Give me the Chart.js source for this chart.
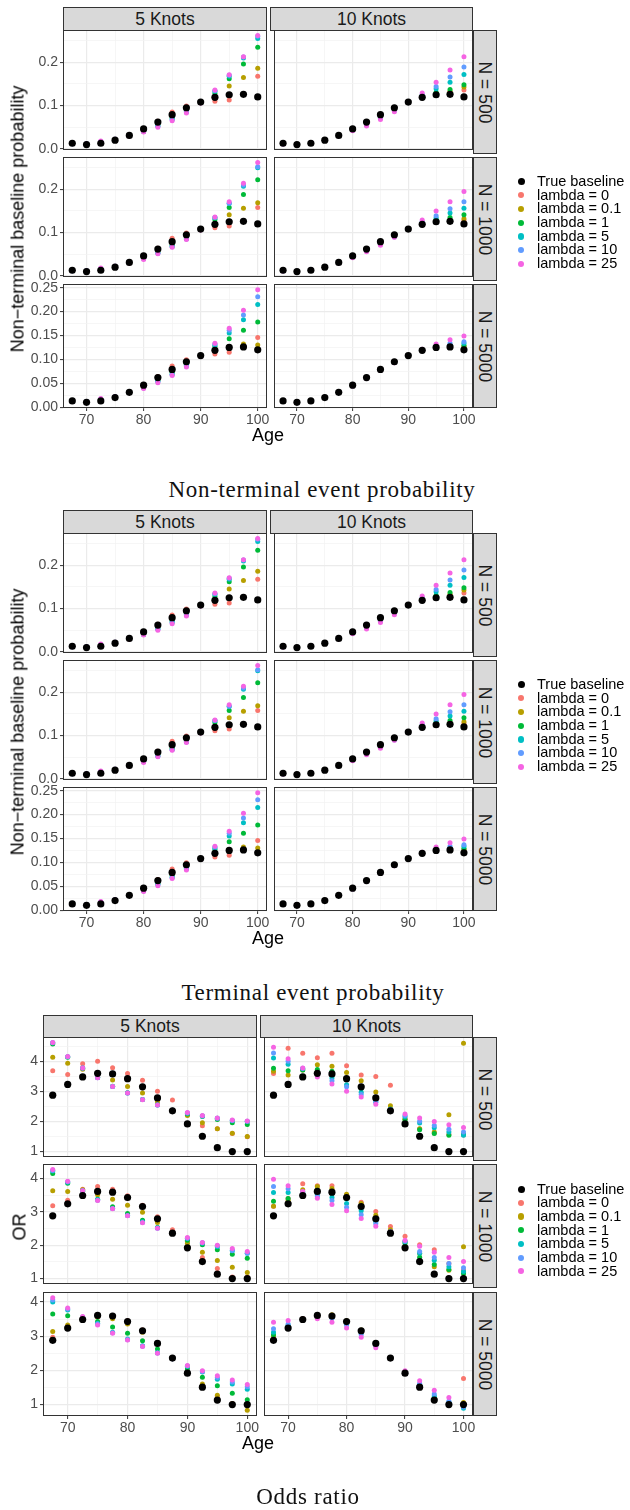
<!DOCTYPE html>
<html>
<head>
<meta charset="utf-8">
<script src="https://cdn.jsdelivr.net/npm/chart.js@4.4.0/dist/chart.umd.min.js"></script>
<style>
body{margin:0;background:#fff;width:630px;height:1510px;position:relative;overflow:hidden;font-family:"Liberation Sans",Arial,sans-serif;}
canvas{position:absolute;}
.strip{position:absolute;background:#d9d9d9;border:1px solid #333;box-sizing:border-box;color:#1a1a1a;font-size:17.5px;display:flex;align-items:center;justify-content:center;white-space:nowrap;}
.strip span{display:block;}
.rot{transform:rotate(90deg);}
.title{position:absolute;color:#000;font-size:18px;white-space:nowrap;transform:translate(-50%,-50%);}
.ytitle{transform:translate(-50%,-50%) rotate(-90deg);}
.caption{position:absolute;font-family:"Liberation Serif","Times New Roman",serif;font-size:23px;letter-spacing:0.7px;color:#111;white-space:nowrap;transform:translate(-50%,-50%);}
.legend{position:absolute;font-size:14.5px;color:#000;}
.legend div{position:relative;height:13.7px;line-height:13.7px;padding-left:22px;white-space:nowrap;}
.legend i{position:absolute;left:3px;top:3.6px;width:6.2px;height:6.2px;border-radius:50%;}
</style>
</head>
<body>
<script>
var ages = [67.5,70,72.5,75,77.5,80,82.5,85,87.5,90,92.5,95,97.5,100];
var xTickLabels = ["70","80","90","100"];
var knotLabels = ["5 Knots","10 Knots"];
var sizeLabels = ["N = 500","N = 1000","N = 5000"];
var seriesLabels = ["lambda = 0","lambda = 0.1","lambda = 1","lambda = 5","lambda = 10","lambda = 25"];
var seriesColors = ["#F8766D","#B79F00","#00BA38","#00BFC4","#619CFF","#F564E3"];

// baseline probability (same picture for non-terminal and terminal figure)
var probBaseline = [.013,.010,.013,.020,.031,.046,.062,.079,.095,.108,.119,.125,.126,.120];
// rows: lambda = 0, 0.1, 1, 5, 10, 25
var probN500K5 = [
  [.013,.010,.013,.020,.030,.044,.064,.085,.099,.107,.110,.113,.127,.168],
  [.013,.010,.014,.020,.031,.043,.060,.078,.094,.108,.120,.145,.165,.186],
  [.013,.011,.015,.021,.031,.041,.056,.072,.088,.107,.128,.162,.196,.235],
  [.012,.012,.016,.021,.031,.040,.053,.069,.086,.107,.133,.168,.210,.255],
  [.012,.012,.017,.022,.031,.040,.052,.067,.085,.107,.134,.170,.212,.260],
  [.012,.012,.018,.022,.030,.039,.050,.065,.083,.106,.136,.171,.213,.262]];
var probN500K10 = [
  [.013,.010,.013,.020,.031,.045,.061,.078,.094,.108,.120,.125,.130,.136],
  [.013,.010,.013,.020,.031,.045,.061,.077,.093,.108,.120,.128,.133,.143],
  [.013,.010,.013,.020,.031,.044,.060,.076,.092,.108,.121,.131,.137,.148],
  [.012,.010,.014,.020,.031,.044,.058,.073,.090,.108,.123,.139,.154,.172],
  [.012,.010,.014,.020,.031,.043,.056,.071,.088,.108,.125,.144,.166,.189],
  [.011,.010,.015,.020,.030,.042,.053,.068,.086,.107,.129,.154,.182,.213]];
var probN1000K5 = [
  [.013,.010,.013,.020,.030,.044,.064,.087,.099,.107,.111,.115,.127,.158],
  [.013,.010,.014,.020,.031,.043,.060,.078,.094,.108,.121,.141,.156,.169],
  [.013,.011,.015,.021,.031,.041,.056,.071,.088,.107,.130,.158,.188,.222],
  [.012,.012,.016,.021,.031,.040,.053,.068,.086,.107,.134,.167,.207,.250],
  [.012,.012,.017,.022,.031,.040,.052,.067,.085,.107,.135,.168,.210,.252],
  [.012,.012,.018,.022,.030,.038,.051,.066,.084,.106,.136,.171,.214,.262]];
var probN1000K10 = [
  [.013,.010,.013,.020,.031,.045,.061,.078,.094,.108,.120,.126,.128,.128],
  [.013,.010,.013,.020,.031,.045,.061,.077,.093,.108,.120,.127,.130,.132],
  [.013,.010,.013,.020,.031,.044,.060,.076,.092,.108,.121,.130,.135,.141],
  [.012,.010,.014,.020,.031,.044,.059,.074,.091,.108,.123,.134,.145,.156],
  [.012,.010,.014,.020,.031,.043,.058,.073,.090,.108,.125,.139,.155,.171],
  [.011,.010,.015,.020,.030,.042,.056,.071,.089,.107,.129,.150,.171,.195]];
var probN5000K5 = [
  [.013,.010,.013,.020,.030,.044,.064,.086,.099,.107,.111,.115,.125,.146],
  [.013,.010,.014,.020,.031,.044,.061,.079,.095,.108,.120,.127,.132,.130],
  [.013,.011,.015,.021,.031,.042,.057,.073,.089,.107,.127,.143,.161,.178],
  [.012,.012,.016,.021,.031,.041,.054,.069,.087,.107,.130,.155,.183,.215],
  [.012,.012,.017,.022,.031,.040,.053,.068,.086,.107,.132,.161,.193,.231],
  [.012,.012,.018,.022,.030,.039,.051,.066,.084,.106,.134,.165,.203,.246]];
var probN5000K10 = [
  [.013,.010,.013,.020,.031,.046,.062,.079,.095,.108,.119,.126,.128,.126],
  [.013,.010,.013,.020,.031,.046,.062,.079,.095,.108,.119,.126,.128,.127],
  [.013,.010,.013,.020,.031,.046,.062,.079,.095,.108,.119,.126,.129,.129],
  [.013,.010,.013,.020,.031,.045,.061,.078,.094,.108,.120,.127,.130,.134],
  [.013,.010,.013,.020,.031,.045,.061,.078,.094,.108,.120,.128,.134,.137],
  [.012,.011,.014,.020,.031,.044,.060,.077,.093,.108,.121,.132,.141,.149]];
var probTickLabels = [["0.0","0.1","0.2"],["0.0","0.1","0.2"],["0.00","0.05","0.10","0.15","0.20","0.25"]];

// odds ratio
var orBaseline = [2.88,3.24,3.49,3.61,3.59,3.43,3.16,2.79,2.36,1.92,1.51,1.13,1.00,1.00];
var orN500K5 = [
  [3.70,3.57,3.93,4.01,3.80,3.60,3.38,3.01,2.72,2.22,1.86,1.76,1.60,1.49],
  [4.15,3.95,3.75,3.62,3.39,3.17,2.95,2.66,2.38,2.20,1.96,1.76,1.61,1.50],
  [4.59,4.15,3.78,3.47,3.18,2.96,2.74,2.56,2.38,2.25,2.17,2.07,1.96,1.90],
  [4.63,4.16,3.79,3.47,3.17,2.95,2.74,2.55,2.38,2.28,2.19,2.11,2.03,2.00],
  [4.63,4.16,3.79,3.46,3.17,2.95,2.74,2.55,2.38,2.29,2.19,2.11,2.04,2.01],
  [4.64,4.17,3.79,3.46,3.17,2.95,2.73,2.55,2.38,2.30,2.20,2.12,2.05,2.02]];
var orN500K10 = [
  [3.60,4.45,4.28,4.13,4.28,3.86,3.55,3.50,3.21,2.10,1.75,1.62,1.58,1.55],
  [3.68,3.55,3.72,3.90,3.85,3.64,3.36,2.99,2.53,2.08,1.76,1.65,2.23,4.61],
  [3.78,3.70,3.72,3.74,3.68,3.40,3.10,2.75,2.42,2.05,1.73,1.60,1.54,1.58],
  [4.12,3.91,3.76,3.62,3.45,3.23,2.98,2.65,2.40,2.16,1.95,1.79,1.65,1.54],
  [4.29,4.01,3.78,3.55,3.36,3.16,2.90,2.65,2.40,2.20,2.01,1.87,1.74,1.65],
  [4.48,4.10,3.79,3.49,3.25,3.01,2.82,2.58,2.38,2.25,2.12,2.00,1.89,1.80]];
var orN1000K5 = [
  [3.18,3.35,3.68,3.76,3.68,3.48,3.20,2.85,2.46,2.12,1.63,1.30,1.05,1.05],
  [3.63,3.61,3.66,3.51,3.38,3.20,2.99,2.68,2.38,2.06,1.79,1.54,1.34,1.18],
  [4.15,3.86,3.62,3.38,3.15,2.95,2.75,2.53,2.36,2.15,2.01,1.86,1.73,1.61],
  [4.22,3.89,3.63,3.37,3.10,2.89,2.70,2.52,2.36,2.20,2.06,1.95,1.83,1.76],
  [4.24,3.90,3.63,3.35,3.10,2.89,2.68,2.51,2.36,2.21,2.07,1.98,1.84,1.76],
  [4.27,3.92,3.63,3.34,3.09,2.88,2.67,2.51,2.36,2.23,2.08,2.00,1.90,1.81]];
var orN1000K10 = [
  [3.17,3.40,3.84,3.78,3.78,3.50,3.29,3.01,2.56,2.27,2.01,1.86,1.45,1.25],
  [3.17,3.34,3.66,3.76,3.70,3.53,3.25,2.90,2.46,2.10,1.75,1.35,1.25,1.95],
  [3.32,3.40,3.55,3.65,3.55,3.40,3.15,2.80,2.40,2.05,1.64,1.42,1.27,1.15],
  [3.58,3.58,3.58,3.51,3.43,3.25,3.03,2.70,2.40,2.10,1.76,1.55,1.35,1.21],
  [3.76,3.69,3.60,3.46,3.34,3.14,2.91,2.64,2.40,2.12,1.81,1.63,1.45,1.32],
  [3.98,3.78,3.61,3.41,3.22,3.03,2.80,2.57,2.40,2.15,1.97,1.79,1.63,1.51]];
var orN5000K5 = [
  [2.97,3.30,3.50,3.58,3.55,3.45,3.18,2.78,2.35,1.92,1.55,1.22,1.03,1.00],
  [3.14,3.33,3.50,3.56,3.51,3.36,3.12,2.77,2.35,1.95,1.60,1.27,1.02,0.83],
  [3.65,3.60,3.50,3.43,3.27,3.09,2.87,2.63,2.35,2.04,1.80,1.55,1.33,1.14],
  [4.00,3.77,3.55,3.38,3.12,2.92,2.72,2.52,2.34,2.12,1.95,1.74,1.60,1.45],
  [4.06,3.80,3.56,3.36,3.10,2.90,2.71,2.51,2.34,2.13,1.97,1.79,1.66,1.52],
  [4.13,3.83,3.58,3.33,3.09,2.89,2.70,2.50,2.34,2.14,1.99,1.84,1.72,1.59]];
var orN5000K10 = [
  [2.95,3.27,3.52,3.62,3.60,3.44,3.17,2.78,2.36,1.92,1.51,1.14,1.01,1.76],
  [2.99,3.27,3.50,3.62,3.63,3.45,3.18,2.79,2.36,1.93,1.53,1.16,1.02,1.06],
  [3.04,3.28,3.50,3.61,3.60,3.42,3.15,2.76,2.36,1.93,1.55,1.20,1.04,1.00],
  [3.12,3.32,3.50,3.59,3.56,3.38,3.10,2.74,2.36,1.94,1.58,1.25,1.07,0.89],
  [3.22,3.36,3.50,3.57,3.52,3.33,3.05,2.72,2.36,1.95,1.62,1.31,1.10,0.93],
  [3.41,3.46,3.49,3.51,3.41,3.24,2.97,2.66,2.35,1.99,1.70,1.42,1.21,1.00]];
var orTickLabels = [["1","2","3","4"],["1","2","3","4"],["1","2","3","4"]];

Chart.defaults.font.family = "'Liberation Sans', Arial, sans-serif";

var panelBorder = {
  id: 'panelBorder',
  afterDatasetsDraw: function(chart){
    var a = chart.chartArea, c = chart.ctx;
    c.save();
    c.strokeStyle = '#333333';
    c.lineWidth = 1;
    c.strokeRect(Math.round(a.left)+0.5, Math.round(a.top)+0.5, Math.round(a.right-a.left)-1, Math.round(a.bottom-a.top)-1);
    c.restore();
  }
};

function expandRange(arrs){
  var lo = Infinity, hi = -Infinity;
  arrs.forEach(function(a){ a.forEach(function(v){ lo = Math.min(lo,v); hi = Math.max(hi,v); }); });
  var e = (hi-lo)*0.05;
  return [lo-e, hi+e];
}

function withMinor(major, lo, hi){
  var step = major[1]-major[0], all = major.slice();
  for (var i = -1; i < major.length; i++) {
    var m = (i < 0 ? major[0]-step : major[i]) + step/2;
    if (m >= lo && m <= hi) all.push(m);
  }
  return all.sort(function(a,b){return a-b;});
}

function isMajor(v, major){
  for (var i=0;i<major.length;i++) if (Math.abs(v-major[i]) < 1e-9) return i;
  return -1;
}

function addDiv(cls, html, css){
  var d = document.createElement('div');
  d.className = cls;
  if (html !== null) d.innerHTML = html;
  d.style.cssText = css;
  document.body.appendChild(d);
  return d;
}

var xRange = expandRange([ages]);
var xMajor = xTickLabels.map(parseFloat);
var xAll = withMinor(xMajor, xRange[0], xRange[1]);

function drawPanel(p){
  var padT = 8, padR = 8;
  var padL = p.showY ? p.left : 0;
  var padB = p.showX ? 22 : 0;
  var cv = document.createElement('canvas');
  var W = padL + p.w + padR, H = padT + p.h + padB;
  cv.width = W; cv.height = H;
  cv.style.cssText = 'left:'+(p.left-padL)+'px;top:'+(p.top-padT)+'px;width:'+W+'px;height:'+H+'px';
  document.body.appendChild(cv);

  var yMajor = p.yLabels.map(parseFloat);
  var yAll = withMinor(yMajor, p.yMin, p.yMax);

  var ds = [];
  for (var k = 0; k < 6; k++) {
    ds.push({
      label: seriesLabels[k],
      data: ages.map(function(a,i){ return {x:a, y:p.fits[k][i]}; }),
      backgroundColor: seriesColors[k],
      pointBackgroundColor: seriesColors[k],
      pointBorderWidth: 0, borderWidth: 0,
      pointRadius: 2.5, order: 6-k
    });
  }
  ds.push({
    label: 'True baseline',
    data: ages.map(function(a,i){ return {x:a, y:p.base[i]}; }),
    backgroundColor: '#000', pointBackgroundColor: '#000',
    pointBorderWidth: 0, borderWidth: 0,
    pointRadius: 3.6, order: 0
  });

  function gridOpts(major, show){
    return {
      color: function(c){ return isMajor(c.tick.value, major) >= 0 ? '#EBEBEB' : '#F2F2F2'; },
      lineWidth: function(c){ return isMajor(c.tick.value, major) >= 0 ? 1.2 : 0.7; },
      drawTicks: show, tickLength: 3,
      tickColor: function(c){ return isMajor(c.tick.value, major) >= 0 ? '#333333' : 'rgba(0,0,0,0)'; },
      tickWidth: 1
    };
  }

  new Chart(cv.getContext('2d'), {
    type: 'scatter',
    data: { datasets: ds },
    options: {
      responsive: false, animation: false, events: [],
      layout: { padding: { top: padT, right: padR, left: 0, bottom: 0 } },
      plugins: { legend: { display: false }, tooltip: { enabled: false } },
      scales: {
        x: {
          type: 'linear', min: xRange[0], max: xRange[1],
          afterBuildTicks: function(s){ s.ticks = xAll.map(function(v){ return {value:v}; }); },
          afterFit: function(s){ s.height = padB; s.paddingLeft = 0; s.paddingRight = 0; },
          border: { display: false },
          grid: gridOpts(xMajor, p.showX),
          ticks: {
            display: p.showX, autoSkip: false, maxRotation: 0, padding: 1,
            color: '#4D4D4D', font: { size: 14 },
            callback: function(v){ var i = isMajor(v, xMajor); return i >= 0 ? xTickLabels[i] : ''; }
          }
        },
        y: {
          type: 'linear', min: p.yMin, max: p.yMax,
          afterBuildTicks: function(s){ s.ticks = yAll.map(function(v){ return {value:v}; }); },
          afterFit: function(s){ s.width = padL; s.paddingTop = 0; s.paddingBottom = 0; },
          border: { display: false },
          grid: gridOpts(yMajor, p.showY),
          ticks: {
            display: p.showY, autoSkip: false, padding: 2,
            color: '#4D4D4D', font: { size: 14 },
            callback: function(v){ var i = isMajor(v, yMajor); return i >= 0 ? p.yLabels[i] : ''; }
          }
        }
      }
    },
    plugins: [panelBorder]
  });
}

function drawFigure(f){
  var fits = f.fits;
  for (var r = 0; r < 3; r++) {
    var range = expandRange([f.base].concat(fits[r][0]).concat(fits[r][1]));
    for (var c = 0; c < 2; c++) {
      drawPanel({
        left: f.colLeft[c], top: f.rowTop[r], w: f.colW[c], h: f.rowH,
        showY: c === 0, showX: r === 2,
        yMin: range[0], yMax: range[1], yLabels: f.tickLabels[r],
        base: f.base, fits: fits[r][c]
      });
    }
    addDiv('strip', '<span class="rot">'+sizeLabels[r]+'</span>',
      'left:'+f.rStripLeft+'px;top:'+f.rowTop[r]+'px;width:'+f.rStripW+'px;height:'+f.rowH+'px;');
  }
  for (var c2 = 0; c2 < 2; c2++) {
    addDiv('strip', '<span>'+knotLabels[c2]+'</span>',
      'left:'+f.colLeft[c2]+'px;top:'+f.stripTop+'px;width:'+f.colW[c2]+'px;height:'+(f.rowTop[0]-f.stripTop+1)+'px;');
  }
  var panelsMid = (f.rowTop[0] + f.rowTop[2] + f.rowH) / 2;
  addDiv('title ytitle', f.yTitle, 'left:'+f.yTitleX+'px;top:'+panelsMid+'px;');
  addDiv('title', 'Age', 'left:'+((f.colLeft[0]+f.colLeft[1]+f.colW[1])/2)+'px;top:'+f.ageY+'px;');
  var lg = addDiv('legend', null, 'left:515px;top:'+(panelsMid-44)+'px;');
  var items = '<div><i style="background:#000;width:7px;height:7px;left:2.6px;top:3.3px"></i>True baseline</div>';
  for (var k = 0; k < 6; k++) items += '<div><i style="background:'+seriesColors[k]+'"></i>'+seriesLabels[k]+'</div>';
  lg.innerHTML = items;
  addDiv('caption', f.caption, 'left:'+f.captionX+'px;top:'+f.captionY+'px;');
}

var probFits = [[probN500K5, probN500K10],[probN1000K5, probN1000K10],[probN5000K5, probN5000K10]];
var orFits = [[orN500K5, orN500K10],[orN1000K5, orN1000K10],[orN5000K5, orN5000K10]];

drawFigure({
  colLeft:[63,270], colW:[204,203], stripTop:7, rowTop:[30,157,284], rowH:124,
  rStripLeft:473, rStripW:24, yTitleX:18, ageY:435,
  base: probBaseline, fits: probFits, tickLabels: probTickLabels,
  yTitle: 'Non\u2212terminal baseline probability',
  caption: 'Non-terminal event probability', captionX:322, captionY:490
});
drawFigure({
  colLeft:[63,270], colW:[204,203], stripTop:510, rowTop:[533,660,787], rowH:124,
  rStripLeft:473, rStripW:24, yTitleX:18, ageY:938,
  base: probBaseline, fits: probFits, tickLabels: probTickLabels,
  yTitle: 'Non\u2212terminal baseline probability',
  caption: 'Terminal event probability', captionX:313, captionY:993
});
drawFigure({
  colLeft:[43,260], colW:[214,213], stripTop:1015, rowTop:[1037,1164,1292], rowH:124,
  rStripLeft:473, rStripW:24, yTitleX:20, ageY:1443,
  base: orBaseline, fits: orFits, tickLabels: orTickLabels,
  yTitle: 'OR',
  caption: 'Odds ratio', captionX:308, captionY:1497
});
</script>
</body>
</html>
